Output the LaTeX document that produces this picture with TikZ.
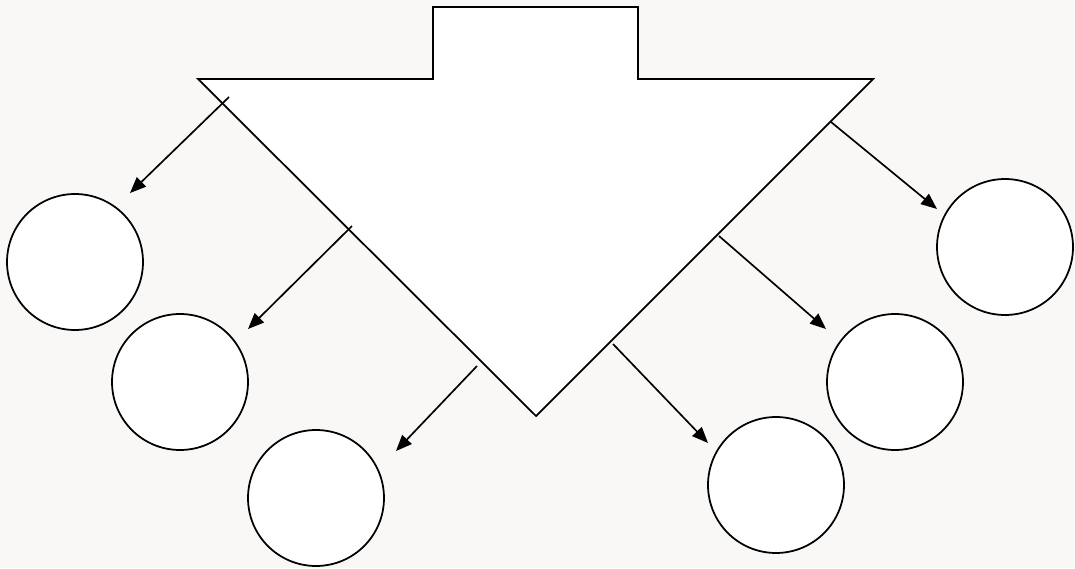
\documentclass[tikz,border=0pt]{standalone}
\usepackage{tikz}
\usetikzlibrary{arrows.meta}
\definecolor{paper}{HTML}{F9F8F6}
\tikzstyle{bigarrow} = [draw=black, fill=white, line width=1pt, line join=miter]
\tikzstyle{ball} = [circle, minimum size=2.72cm, inner sep=0pt, draw=black, fill=white, line width=1pt]
\tikzstyle{arrow} = [line width=0.95pt, -{Triangle[length=0.32cm, width=0.26cm]}]

\begin{document}
\begin{tikzpicture}[x=0.02cm, y=-0.02cm]
\fill[paper] (0,0) rectangle (1075,568);
\useasboundingbox (0,0) rectangle (1075,568);
% big arrow pointing down
\draw[bigarrow] (433,7) -- (638,7) -- (638,79) -- (873,79) -- (536,416)
  -- (198,79) -- (433,79) -- cycle;
%
\node (left1) at (75,262) [ball] {};
\node (left2) at (180,382) [ball] {};
\node (left3) at (316,498) [ball] {};
%
\node (right1) at (1005,247) [ball] {};
\node (right2) at (895,382) [ball] {};
\node (right3) at (776,485) [ball] {};
%
\coordinate (fromL1) at (229,97);
\coordinate (toL1) at (130,193);
\coordinate (fromL2) at (352,226);
\coordinate (toL2) at (248,329);
\coordinate (fromL3) at (477,366);
\coordinate (toL3) at (396,451);
\coordinate (fromR1) at (831,122);
\coordinate (toR1) at (937,209);
\coordinate (fromR2) at (719,236);
\coordinate (toR2) at (826,329);
\coordinate (fromR3) at (613,344);
\coordinate (toR3) at (708,443);
%
\draw [arrow] (fromL1) -- (toL1);
\draw [arrow] (fromL2) -- (toL2);
\draw [arrow] (fromL3) -- (toL3);
\draw [arrow] (fromR1) -- (toR1);
\draw [arrow] (fromR2) -- (toR2);
\draw [arrow] (fromR3) -- (toR3);

\end{tikzpicture}
\end{document}
